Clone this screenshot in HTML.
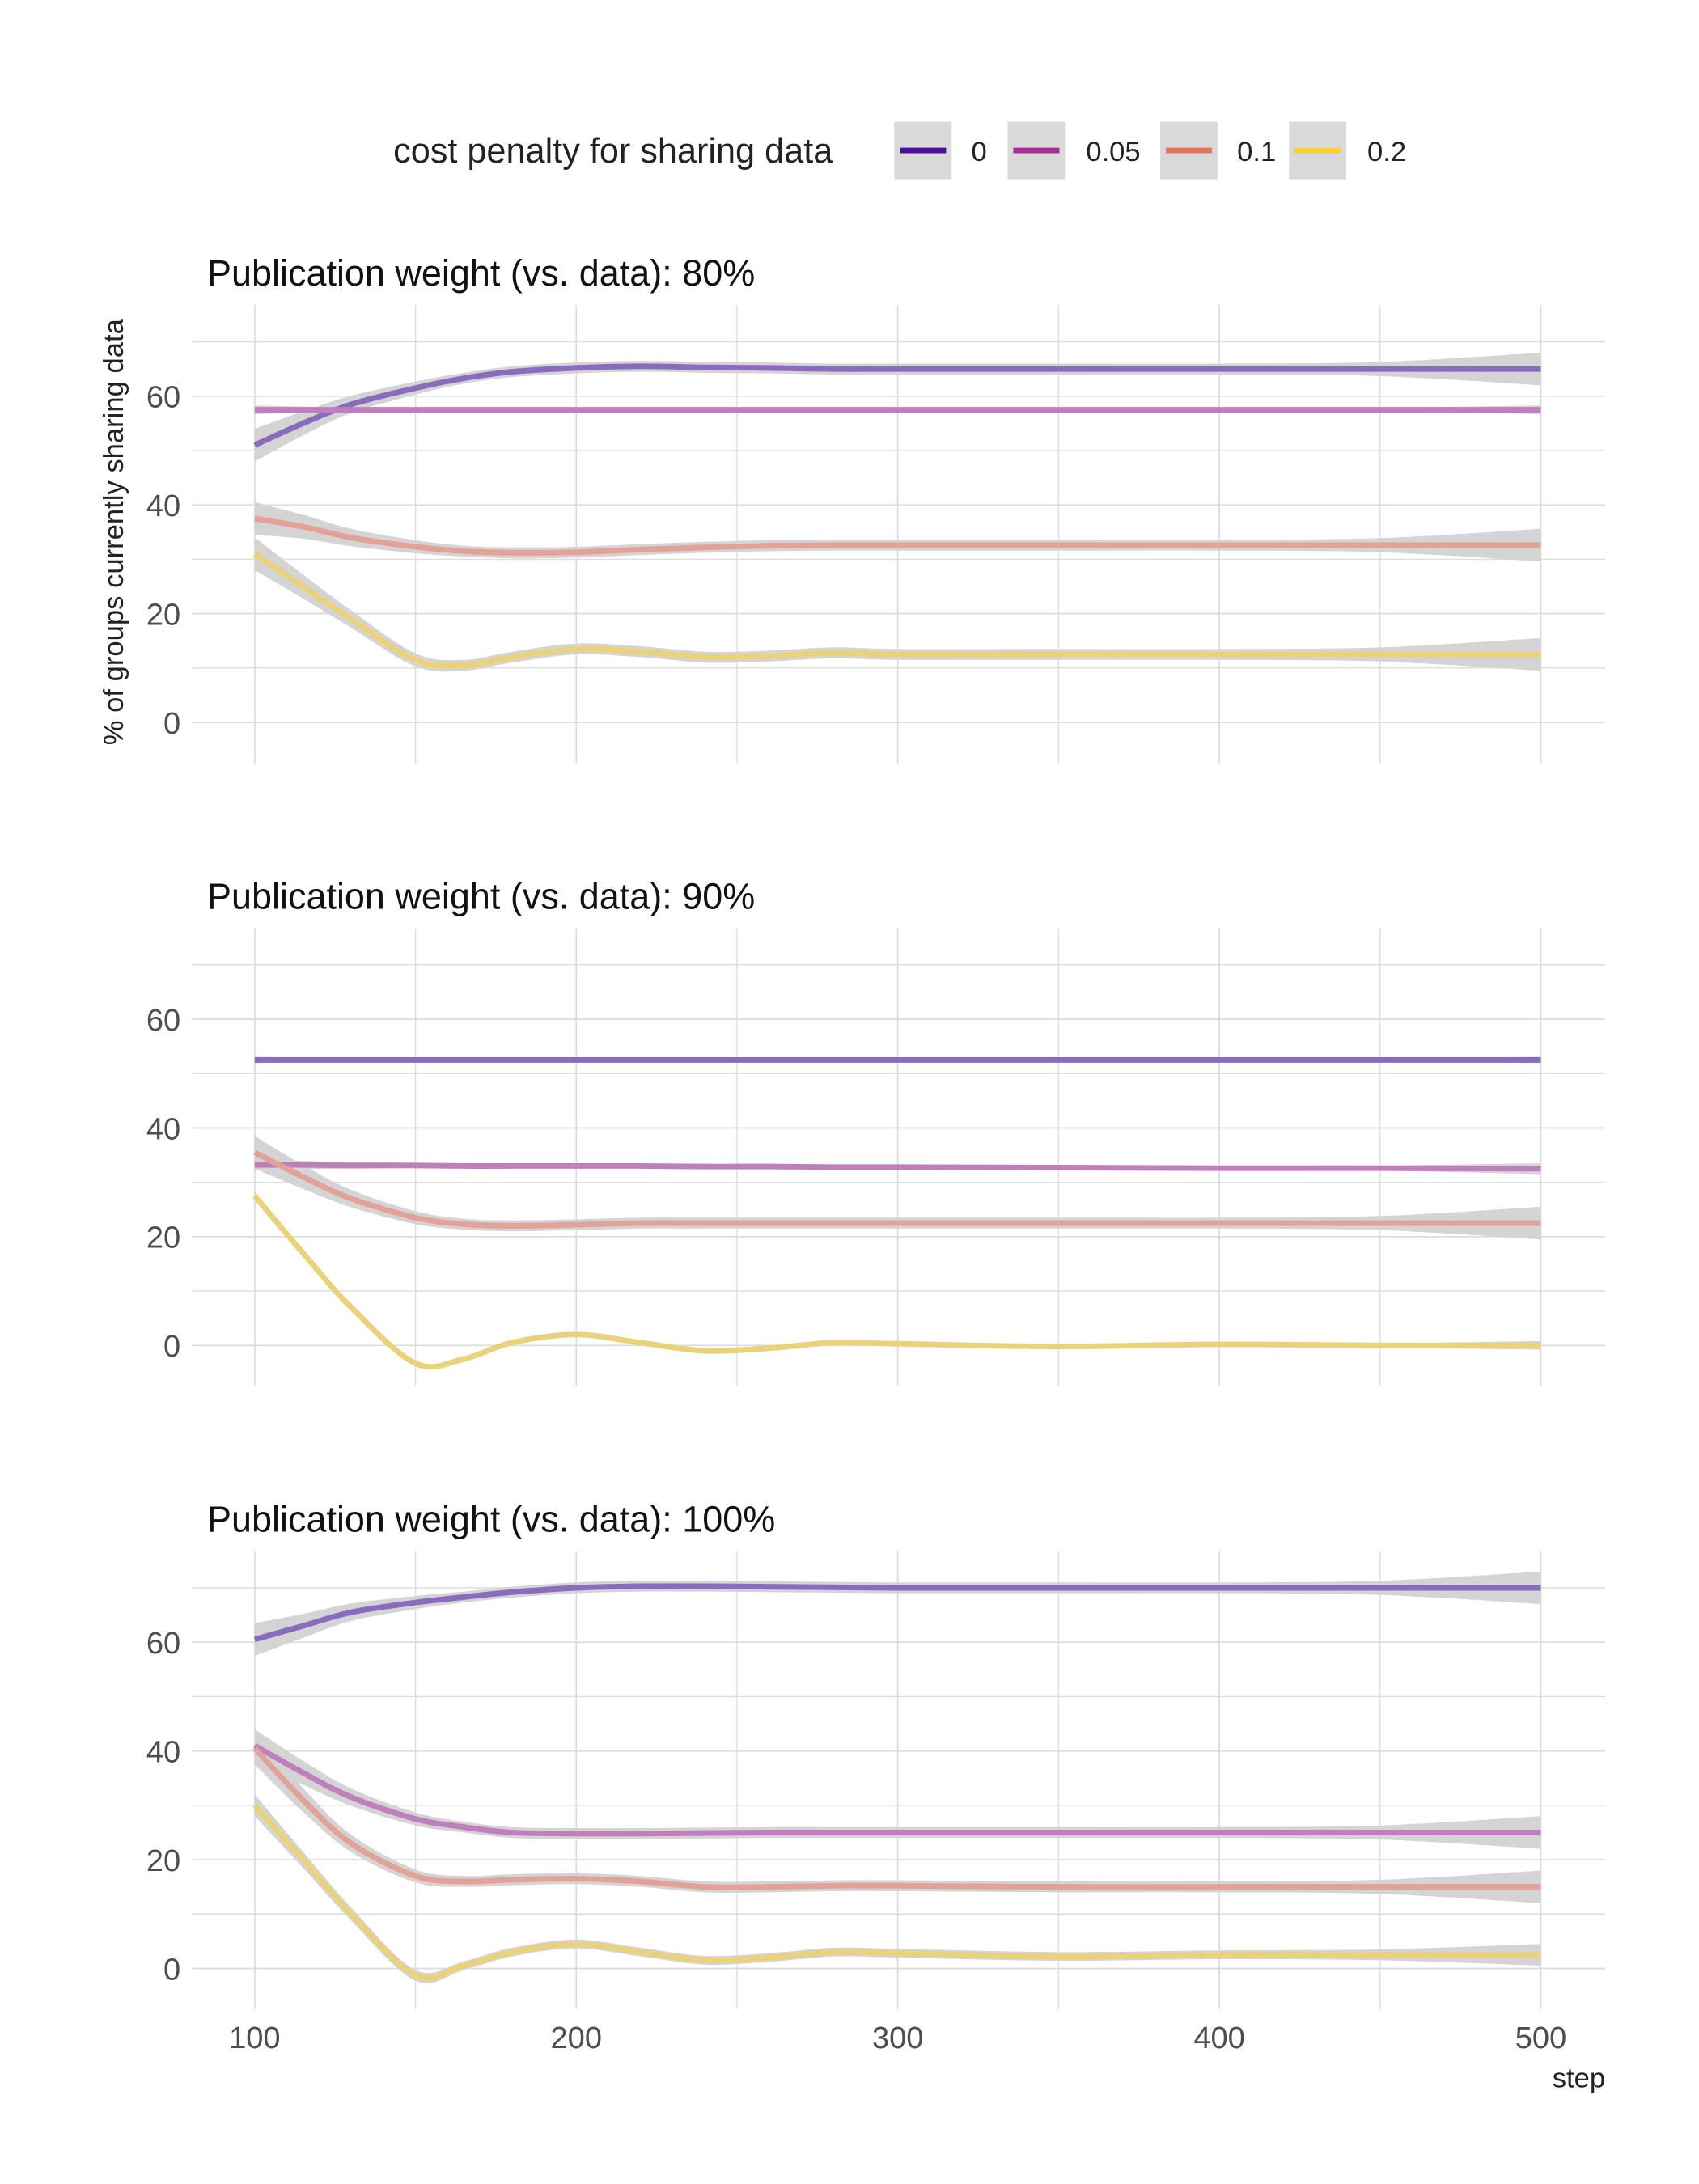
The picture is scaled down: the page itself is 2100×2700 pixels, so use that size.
<!DOCTYPE html>
<html><head><meta charset="utf-8"><style>
html,body{margin:0;padding:0;background:#fff;}
svg{display:block;font-family:"Liberation Sans",sans-serif;}
</style></head><body>
<svg id="chart" width="2100" height="2700" viewBox="0 0 1214 1560" preserveAspectRatio="none" xmlns="http://www.w3.org/2000/svg">
<g>
<text x="281" y="116" font-size="25" fill="#222">cost penalty for sharing data</text>
<rect x="639" y="87" width="41" height="41" fill="#d9d9d9"/><line x1="643" x2="676" y1="107.5" y2="107.5" stroke="#4b0aa0" stroke-width="4"/>
<text x="694" y="115" font-size="20" fill="#222">0</text>
<rect x="720" y="87" width="41" height="41" fill="#d9d9d9"/><line x1="724" x2="757" y1="107.5" y2="107.5" stroke="#aa2a9c" stroke-width="4"/>
<text x="776" y="115" font-size="20" fill="#222">0.05</text>
<rect x="829" y="87" width="41" height="41" fill="#d9d9d9"/><line x1="833" x2="866" y1="107.5" y2="107.5" stroke="#e8705e" stroke-width="4"/>
<text x="884" y="115" font-size="20" fill="#222">0.1</text>
<rect x="921" y="87" width="41" height="41" fill="#d9d9d9"/><line x1="925" x2="958" y1="107.5" y2="107.5" stroke="#fbcf2e" stroke-width="4"/>
<text x="977" y="115" font-size="20" fill="#222">0.2</text>
</g>
<text transform="translate(88,380) rotate(-90)" text-anchor="middle" font-size="20" fill="#222">% of groups currently sharing data</text>
<text x="1147" y="1491" text-anchor="end" font-size="20" fill="#222">step</text>
</svg>
<script>
const steps=[100,115,130,150,165,180,200,220,240,260,280,300,350,400,450,500];
const seriesNames=["0","0.05","0.1","0.2"];
const colors=["#8a6bbd","#bf7fbd","#e3a298","#ead27a"];
const titles=["Publication weight (vs. data): 80%","Publication weight (vs. data): 90%","Publication weight (vs. data): 100%"];
const yTicks=[0,20,40,60];
const xTicks=[100,200,300,400,500];
const p1_0=[51,55,58.5,61.5,63.3,64.5,65.2,65.5,65.3,65.2,65,65,65,65,65,65];
const p1_05=[57.5,57.5,57.5,57.5,57.5,57.5,57.5,57.5,57.5,57.5,57.5,57.5,57.5,57.5,57.5,57.5];
const p1_1=[37.5,36,34,32.3,31.5,31.2,31.3,31.8,32.2,32.5,32.6,32.6,32.6,32.6,32.6,32.6];
const p1_2=[31,25,19,11.5,10.5,12,13.5,13,12,12.2,12.8,12.5,12.5,12.5,12.5,12.5];
const p2_0=[52.5,52.5,52.5,52.5,52.5,52.5,52.5,52.5,52.5,52.5,52.5,52.5,52.5,52.5,52.5,52.5];
const p2_05=[33.2,33.2,33.1,33.1,33,33,33,33,32.9,32.9,32.8,32.8,32.7,32.6,32.6,32.5];
const p2_1=[35.5,31,27,23.5,22.3,22,22.2,22.5,22.5,22.5,22.5,22.5,22.5,22.5,22.5,22.5];
const p2_2=[27.5,17,7,-3.3,-2.5,0.5,2,0.5,-1,-0.5,0.5,0.3,-0.2,0.2,0,0];
const p3_0=[60.5,63,65.5,67.3,68.3,69.2,70,70.3,70.3,70.2,70.1,70,70,70,70,70];
const p3_05=[41,36,31.5,27.5,26,25,24.8,24.8,24.9,25,25,25,25,25,25,25];
const p3_1=[40.5,31,23,17,16,16.3,16.5,16,15,15,15.2,15.2,15,15,15,15];
const p3_2=[30,20,10,-1.3,0.5,3,4.5,3,1.5,2,3,2.8,2.2,2.5,2.5,2.5];
const se1=[3,2.2,1.6,1.2,1,1,1,1,1,1,1,1,1,1,1.3,3];
const se2=[2,1.5,1.2,1,0.8,0.8,0.8,0.8,0.8,0.8,0.8,0.8,0.8,0.8,1,2];
const panels=[[p1_0,p1_05,p1_1,p1_2],[p2_0,p2_05,p2_1,p2_2],[p3_0,p3_05,p3_1,p3_2]];
const ses=[[se1,se2.map(v=>v*0.4),se1,se1],[se2.map(v=>v*0.3),se2.map(v=>v*0.5),se1,se2.map(v=>v*0.4)],[se1,se1,se1,se2]];
const zeroY=[516,961,1406];
const NS="http://www.w3.org/2000/svg";
const svg=document.getElementById("chart");
const xs=s=>182+(s-100)*(1101-182)/400;
function mk(tag,attrs,parent){const e=document.createElementNS(NS,tag);for(const k in attrs)e.setAttribute(k,attrs[k]);parent.appendChild(e);return e;}
function smooth(pts){let d="M"+pts[0][0]+","+pts[0][1];for(let i=0;i<pts.length-1;i++){const p0=pts[Math.max(0,i-1)],p1=pts[i],p2=pts[i+1],p3=pts[Math.min(pts.length-1,i+2)];d+=" C"+(p1[0]+(p2[0]-p0[0])/6)+","+(p1[1]+(p2[1]-p0[1])/6)+" "+(p2[0]-(p3[0]-p1[0])/6)+","+(p2[1]-(p3[1]-p1[1])/6)+" "+p2[0]+","+p2[1];}return d;}
panels.forEach((series,pi)=>{
  const z=zeroY[pi];const ys=v=>z-v*(z-(z-233))/60;
  const g=mk("g",{},svg);
  
  
  const top=z-298,bot=z+29;
  for(let v=0;v<=70;v+=10){const l=mk("line",{x1:137,x2:1147,y1:ys(v),y2:ys(v),stroke:"#dcdcdc","stroke-width":v%20==0?1:0.8},g);}
  for(let s=100;s<=500;s+=50){const l=mk("line",{x1:xs(s),x2:xs(s),y1:top,y2:bot,stroke:"#dcdcdc","stroke-width":s%100==0?1:0.8},g);}
  yTicks.forEach(v=>{const t=mk("text",{x:129,y:ys(v)+8,"text-anchor":"end","font-size":22,fill:"#4d4d4d"},g);t.textContent=v;});
  const tt=mk("text",{x:148,y:z-312,"font-size":26,fill:"#111"},g);tt.textContent=titles[pi];
  
  
  series.forEach((vals,si)=>{
    const se=ses[pi][si];
    const up=steps.map((s,i)=>[xs(s),ys(vals[i]+se[i])]);
    const lo=steps.map((s,i)=>[xs(s),ys(vals[i]-se[i])]).reverse();
    const r=mk("path",{d:smooth(up)+" L"+smooth(lo).slice(1)+" Z",fill:"#d4d4d4"},g);
    
    
  });
  series.forEach((vals,si)=>{
    const p=mk("path",{d:smooth(steps.map((s,i)=>[xs(s),ys(vals[i])])),fill:"none",stroke:colors[si],"stroke-width":4},g);
    
    
  });
});
xTicks.forEach(s=>{const t=mk("text",{x:xs(s),y:1463,"text-anchor":"middle","font-size":22,fill:"#4d4d4d"},svg);t.textContent=s;

});
</script>
</body></html>
